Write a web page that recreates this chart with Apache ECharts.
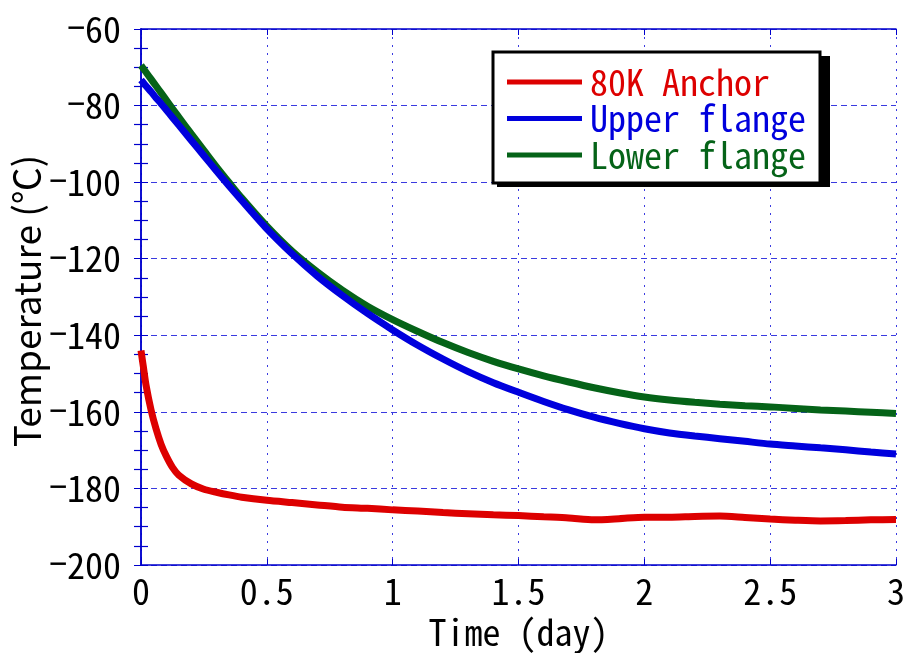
<!DOCTYPE html>
<html>
<head>
<meta charset="utf-8">
<script src="https://cdn.jsdelivr.net/npm/echarts@6/dist/echarts.min.js"></script>
<style>
html,body{margin:0;padding:0;background:#fff;}
#chart{width:905px;height:653px;}
</style>
</head>
<body>
<div id="chart"></div>
<script>
// ---- data ----
var timeDays = [0, 0.01, 0.02, 0.04, 0.06, 0.08, 0.1, 0.125, 0.15, 0.2, 0.25, 0.3, 0.35, 0.4,
  0.5, 0.6, 0.7, 0.8, 0.9, 1.0, 1.1, 1.2, 1.3, 1.4, 1.5, 1.6, 1.7, 1.8, 1.9, 2.0,
  2.1, 2.2, 2.3, 2.4, 2.5, 2.6, 2.7, 2.8, 2.9, 3.0];
var anchor80K = [-144, -148.5, -153, -159.5, -164.5, -168.5, -171.5, -174.5, -176.5, -178.8, -180.2, -181.0, -181.7, -182.3,
  -183.1, -183.7, -184.3, -184.9, -185.2, -185.6, -185.9, -186.3, -186.6, -186.9, -187.1, -187.4, -187.7, -188.2, -187.9, -187.5,
  -187.5, -187.3, -187.2, -187.6, -188.0, -188.3, -188.5, -188.4, -188.2, -188.1];
var upperFlange = [-73.3, -74.1, -74.9, -76.4, -78.0, -79.5, -81.1, -83.1, -85.1, -89.1, -93.1, -97.1, -101.0, -104.8,
  -112.2, -118.7, -124.5, -129.6, -134.3, -138.6, -142.6, -146.2, -149.5, -152.4, -154.9, -157.3, -159.5, -161.4, -163.0, -164.4,
  -165.5, -166.3, -167.0, -167.7, -168.4, -168.9, -169.4, -169.9, -170.5, -171.0];
var lowerFlange = [-69.5, -70.4, -71.3, -73.1, -74.9, -76.7, -78.5, -80.8, -83.0, -87.4, -91.7, -96.0, -100.1, -104.1,
  -111.5, -118.0, -123.4, -128.2, -132.4, -135.9, -139.0, -141.9, -144.5, -146.8, -148.8, -150.6, -152.2, -153.7, -155.0, -156.1,
  -156.9, -157.5, -158.0, -158.4, -158.7, -159.1, -159.5, -159.8, -160.1, -160.4];
var seriesNames = ['80K Anchor', 'Upper flange', 'Lower flange'];
var seriesColors = ['#dd0000', '#0000dd', '#056318'];
var xTitle = 'Time (day)';
var yTitle = 'Temperature (\u2103)';

function pairs(vals) { return timeDays.map(function (t, i) { return [t, vals[i]]; }); }

var MONO = '"Noto Sans Mono CJK JP", "Liberation Mono", monospace';
var AXIS_BLUE = '#0000cc';
var GRID_BLUE = '#3a3ae0';

var chart = echarts.init(document.getElementById('chart'), null, {renderer: 'canvas'});
var xBase = {
  type: 'value', min: 0, max: 3, interval: 0.5,
  axisLine: {show: true, lineStyle: {color: AXIS_BLUE, width: 1.5}},
  axisTick: {show: true, inside: true, length: 6, lineStyle: {color: AXIS_BLUE}},
  minorTick: {show: false}
};
var yBase = {
  type: 'value', min: -200, max: -60, interval: 20,
  axisLine: {show: true, lineStyle: {color: AXIS_BLUE, width: 1.5}},
  axisTick: {show: true, inside: true, length: 7, lineStyle: {color: AXIS_BLUE}},
  minorTick: {show: true, splitNumber: 4, length: 7, lineStyle: {color: AXIS_BLUE, width: 1.2}}
};
var option = {
  animation: false,
  backgroundColor: '#fff',
  grid: {left: 141, top: 29, right: 9, bottom: 88, containLabel: false, outerBoundsMode: 'none'},
  graphic: [{
    type: 'rect', z: 50, silent: true,
    shape: {x: 497, y: 56, width: 333, height: 131},
    style: {fill: '#000'}
  }],
  xAxis: [
    Object.assign({}, xBase, {
      position: 'bottom',
      name: xTitle, nameLocation: 'middle', nameGap: 47,
      nameTextStyle: {fontFamily: MONO, fontSize: 36, color: '#000'},
      axisLabel: {fontFamily: MONO, fontSize: 36, color: '#000', margin: 8},
      splitLine: {show: true, lineStyle: {color: GRID_BLUE, width: 1, type: [2, 6]}}
    }),
    Object.assign({}, xBase, {
      position: 'top', axisLabel: {show: false}, splitLine: {show: false}
    })
  ],
  yAxis: [
    Object.assign({}, yBase, {
      position: 'left',
      name: yTitle, nameLocation: 'middle', nameGap: 96, nameMoveOverlap: false,
      nameTextStyle: {fontFamily: '"Noto Sans CJK JP", "Noto Sans", sans-serif', fontSize: 37, color: '#000', padding: [0, 8, 0, 0]},
      axisLabel: {
        color: '#000', margin: 20,
        formatter: function (v) { return v < 0 ? '{m|\u2212}{d|' + Math.abs(v) + '}' : '{d|' + v + '}'; },
        rich: {
          m: {fontFamily: '"DejaVu Sans Mono", monospace', fontSize: 30, color: '#000'},
          d: {fontFamily: MONO, fontSize: 36, color: '#000'}
        }
      },
      splitLine: {show: true, lineStyle: {color: GRID_BLUE, width: 1, type: [6, 4]}}
    }),
    Object.assign({}, yBase, {
      position: 'right', axisLabel: {show: false}, splitLine: {show: false}
    })
  ],
  legend: {
    left: 493, top: 52, z: 60,
    orient: 'vertical',
    icon: 'rect', itemWidth: 75, itemHeight: 5, itemGap: 0.5,
    padding: [12, 14, 10, 14],
    backgroundColor: '#fff',
    borderColor: '#000', borderWidth: 3, borderRadius: 0,
    textStyle: {fontFamily: MONO, fontSize: 36, lineHeight: 36, padding: [0, 0, 0, 3]},
    data: seriesNames.map(function (n, i) { return {name: n, textStyle: {color: seriesColors[i]}}; })
  },
  series: [anchor80K, upperFlange, lowerFlange].map(function (vals, i) {
    return {
      name: seriesNames[i], type: 'line', xAxisIndex: 0, yAxisIndex: 0,
      data: pairs(vals), showSymbol: false, symbol: 'none', smooth: 0.25,
      color: seriesColors[i],
      lineStyle: {color: seriesColors[i], width: 7},
      z: 3 - i
    };
  })
};
chart.setOption(option);
</script>
</body>
</html>
